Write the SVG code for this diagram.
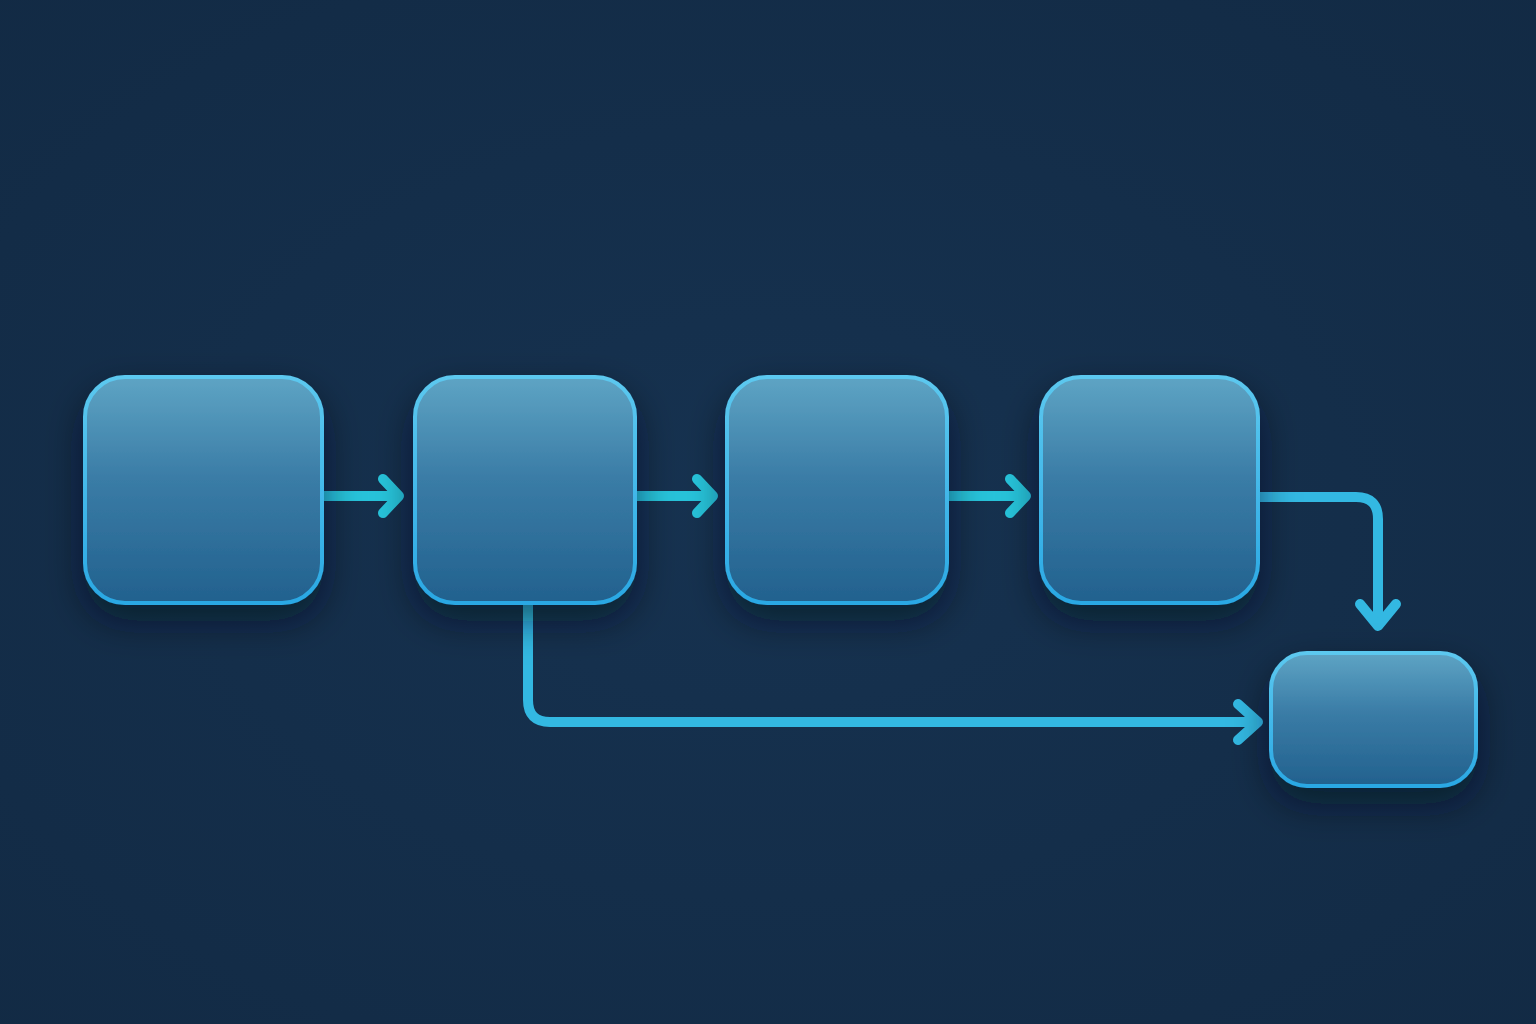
<svg xmlns="http://www.w3.org/2000/svg" width="1536" height="1024" viewBox="0 0 1536 1024">
<defs>
<radialGradient id="bg" cx="50%" cy="50%" r="75%">
<stop offset="0" stop-color="#163250"/>
<stop offset="1" stop-color="#122a44"/>
</radialGradient>
<linearGradient id="nodeFill" x1="0" y1="0" x2="0" y2="1">
<stop offset="0" stop-color="#5ea4c4"/>
<stop offset="0.45" stop-color="#3a7ca6"/>
<stop offset="1" stop-color="#22618e"/>
</linearGradient>
<linearGradient id="nodeStroke" x1="0" y1="0" x2="0" y2="1">
<stop offset="0" stop-color="#5cc8ef"/>
<stop offset="1" stop-color="#2aa8e4"/>
</linearGradient>
<filter id="shadow" x="-30%" y="-30%" width="160%" height="180%">
<feDropShadow dx="0" dy="16" stdDeviation="18" flood-color="#06101c" flood-opacity="0.55"/>
</filter>
<style>
.node{fill:url(#nodeFill);stroke:url(#nodeStroke);stroke-width:4;filter:url(#shadow)}
.short{fill:none;stroke:#27c3da;stroke-width:10;stroke-linecap:round;stroke-linejoin:round}
.long{fill:none;stroke:#33b8e2;stroke-width:10;stroke-linecap:round;stroke-linejoin:round}
</style>
</defs>
<rect width="1536" height="1024" fill="url(#bg)"/>
<g id="connectors">
<path class="short" d="M322 496 H396"/>
<path class="short" d="M383 479 L399 496 L383 513"/>
<path class="short" d="M635 496 H710"/>
<path class="short" d="M697 479 L713 496 L697 513"/>
<path class="short" d="M947 496 H1023"/>
<path class="short" d="M1010 479 L1026 496 L1010 513"/>
<path class="long" d="M1258 497 H1356 Q1378 497 1378 519 V624"/>
<path class="long" d="M1360 604 L1378 626 L1396 604"/>
<path class="long" d="M528 603 V700 Q528 722 550 722 H1256"/>
<path class="long" d="M1238 704 L1258 722 L1238 740"/>
</g>
<g id="node1"><rect class="node" x="85" y="377" width="237" height="226" rx="40"/></g>
<g id="node2"><rect class="node" x="415" y="377" width="220" height="226" rx="40"/></g>
<g id="node3"><rect class="node" x="727" y="377" width="220" height="226" rx="40"/></g>
<g id="node4"><rect class="node" x="1041" y="377" width="217" height="226" rx="40"/></g>
<g id="node5"><rect class="node" x="1271" y="653" width="205" height="133" rx="36"/></g>
</svg>
